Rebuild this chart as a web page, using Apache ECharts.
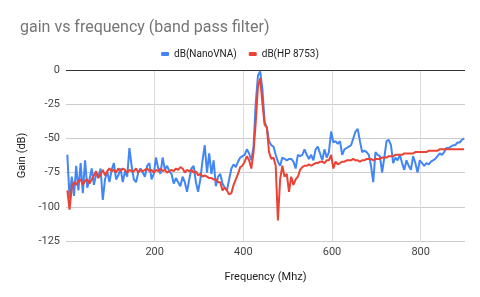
<!DOCTYPE html>
<html>
<head>
<meta charset="utf-8">
<script src="https://cdn.jsdelivr.net/npm/echarts@6/dist/echarts.min.js"></script>
<style>html,body{margin:0;padding:0;background:#fff;}#c{width:480px;height:297px;}</style>
</head>
<body>
<div id="c"></div>
<script>
const freq = [
3,8,13,18,23,28,33,38,43,48,
53,58,63,68,73,78,83,88,93,98,
103,108,113,118,123,128,133,138,143,148,
153,158,163,168,173,178,183,188,193,198,
203,208,213,218,223,228,233,238,243,248,
253,258,263,268,273,278,283,288,293,298,
303,308,313,318,323,328,333,338,343,348,
353,358,363,368,373,378,383,388,393,398,
403,408,413,418,423,428,433,438,443,448,
453,458,463,468,473,478,483,488,493,498,
503,508,513,518,523,528,533,538,543,548,
553,558,563,568,573,578,583,588,593,598,
603,608,613,618,623,628,633,638,643,648,
653,658,663,668,673,678,683,688,693,698,
703,708,713,718,723,728,733,738,743,748,
753,758,763,768,773,778,783,788,793,798,
803,808,813,818,823,828,833,838,843,848,
853,858,863,868,873,878,883,888,893,898
];
const nanoVNA = [
-62,-94,-78,-92,-70,-88,-68,-90,-66,-86,
-80,-72,-84,-76,-78,-72,-95,-80,-74,-82,
-73,-68,-80,-77,-72,-82,-74,-78,-57,-70,
-80,-82,-75,-72,-75,-78,-70,-68,-80,-76,
-64,-72,-76,-64,-73,-70,-74,-76,-83,-79,
-82,-85,-78,-82,-89,-80,-72,-70,-82,-89,
-80,-66,-55,-75,-61,-76,-66,-85,-78,-76,
-83,-86,-88,-80,-72,-69,-71,-67,-64,-63,
-62,-58,-61,-66,-56,-24,-4,-1,-14,-38,
-42,-52,-55,-56,-62,-67,-70,-64,-65,-66,
-65,-65,-67,-72,-62,-63,-62,-58,-62,-65,
-62,-66,-58,-56,-61,-66,-58,-64,-60,-45,
-53,-52,-54,-52,-62,-58,-57,-56,-55,-50,
-45,-43,-52,-60,-59,-60,-62,-70,-82,-60,
-62,-63,-75,-64,-52,-51,-55,-68,-64,-66,
-62,-68,-73,-66,-70,-73,-63,-68,-75,-66,
-68,-70,-68,-69,-67,-66,-65,-63,-61,-62,
-60,-57,-57,-56,-55,-55,-53,-53,-51,-50
];
const hp8753 = [
-88,-102,-86,-82,-84,-81,-80,-84,-81,-80,
-83,-80,-77,-74,-79,-76,-73,-77,-74,-72,
-74,-73,-75,-72,-74,-72,-73,-75,-73,-74,
-74,-72,-75,-73,-74,-73,-72,-74,-73,-75,
-73,-74,-72,-74,-73,-75,-74,-73,-74,-72,
-73,-71,-72,-75,-73,-74,-73,-75,-74,-77,
-76,-78,-77,-78,-79,-79,-80,-80,-82,-82,
-88,-86,-88,-91,-90,-84,-80,-76,-71,-70,
-67,-63,-66,-72,-60,-38,-12,-6,-24,-40,
-42,-60,-65,-64,-70,-110,-80,-70,-78,-76,
-89,-78,-84,-80,-78,-73,-71,-70,-70,-69,
-70,-69,-68,-68,-67,-67,-68,-66,-66,-62,
-72,-67,-69,-68,-67,-67,-66,-66,-66,-65,
-66,-66,-67,-66,-66,-65,-65,-65,-66,-65,
-65,-65,-64,-64,-64,-63,-63,-63,-62,-62,
-62,-62,-61,-61,-61,-61,-61,-60,-60,-60,
-60,-60,-60,-59,-59,-59,-59,-59,-58,-58,
-58,-58,-58,-58,-58,-58,-58,-58,-58,-58
];
const xTickLabels = [200, 400, 600, 800];
const seriesNames = ['dB(NanoVNA)', 'dB(HP 8753)'];

const chart = echarts.init(document.getElementById('c'), null, {renderer: 'canvas'});
const font = 'Roboto, "Noto Sans", Arial, sans-serif';
chart.setOption({
  animation: false,
  textStyle: {fontFamily: font},
  title: {
    text: 'gain vs frequency (band pass filter)',
    left: 15, top: 15,
    textStyle: {fontFamily: font, fontSize: 16, fontWeight: 'normal', color: '#757575'}
  },
  legend: {
    data: seriesNames,
    top: 44, left: 'center',
    icon: 'roundRect', itemWidth: 8, itemHeight: 4, itemGap: 12,
    textStyle: {fontFamily: font, fontSize: 10, color: '#222'}
  },
  grid: {left: 66, right: 15, top: 70, bottom: 56},
  xAxis: {
    type: 'value', min: 0, max: 900, interval: 200,
    name: 'Frequency (Mhz)', nameLocation: 'middle', nameGap: 31,
    nameTextStyle: {fontFamily: font, fontSize: 11, color: '#222'},
    axisLine: {show: false}, axisTick: {show: false},
    axisLabel: {
      margin: 6, fontSize: 11, color: '#444', fontFamily: font,
      formatter: v => xTickLabels.indexOf(v) >= 0 ? String(v) : ''
    },
    splitLine: {show: true, showMinLine: false, showMaxLine: false, lineStyle: {color: '#dcdcdc', width: 1}}
  },
  yAxis: {
    type: 'value', min: -125, max: 0, interval: 25,
    name: 'Gain (dB)', nameLocation: 'middle', nameGap: 38, nameRotate: 90,
    nameTextStyle: {fontFamily: font, fontSize: 11, color: '#222'},
    axisLine: {show: false}, axisTick: {show: false},
    axisLabel: {margin: 6, fontSize: 11, color: '#444', fontFamily: font},
    splitLine: {show: true, lineStyle: {color: '#cccccc', width: 1}}
  },
  series: [
    {
      name: seriesNames[0], type: 'line', showSymbol: false, symbol: 'none',
      data: freq.map((f, i) => [f, nanoVNA[i]]),
      lineStyle: {color: '#4285F4', width: 2}, itemStyle: {color: '#4285F4'},
      markLine: {
        silent: true, symbol: 'none', label: {show: false},
        lineStyle: {color: '#333', width: 1, type: 'solid'},
        data: [{yAxis: 0}]
      },
      z: 2
    },
    {
      name: seriesNames[1], type: 'line', showSymbol: false, symbol: 'none',
      data: freq.map((f, i) => [f, hp8753[i]]),
      lineStyle: {color: '#EA4335', width: 2}, itemStyle: {color: '#EA4335'},
      z: 3
    }
  ]
});
</script>
</body>
</html>
